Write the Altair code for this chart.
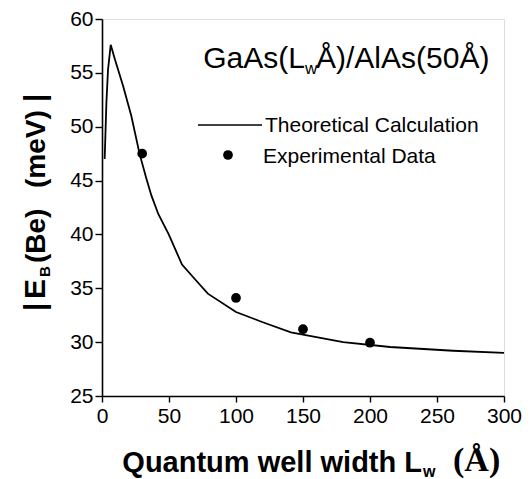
import altair as alt
import pandas as pd

# Theoretical calculation curve
theory_x = [2, 3.3, 4.5, 6.5, 9.5, 15.7, 21.9, 28, 33.1, 36.9, 42.0, 49.8, 59.7, 70.4, 79, 100, 120, 141, 180, 215, 262, 300]
theory_y = [47.0, 52.3, 55.3, 57.6, 56.3, 53.8, 51.0, 47.5, 45.2, 43.6, 41.9, 40.0, 37.2, 35.7, 34.5, 32.8, 31.85, 30.9, 30.0, 29.55, 29.2, 29.0]

# Experimental data
exp_x = [30, 100, 150, 200]
exp_y = [47.5, 34.1, 31.2, 29.95]

x_ticks = [0, 25, 50, 75, 100, 125, 150, 175, 200, 225, 250, 275, 300]
y_ticks = [25, 27.5, 30, 32.5, 35, 37.5, 40, 42.5, 45, 47.5, 50, 52.5, 55, 57.5, 60]

legend_labels = ["Theoretical Calculation", "Experimental Data"]
FONT = "Liberation Sans"

W, H = 402, 377

theory = pd.DataFrame({"x": theory_x, "y": theory_y})
exp = pd.DataFrame({"x": exp_x, "y": exp_y})

xscale = alt.Scale(domain=[0, 300], nice=False, zero=False)
yscale = alt.Scale(domain=[25, 60], nice=False, zero=False)

common_axis = dict(
    grid=False, title=None, labelFont=FONT, labelFontSize=21, labelColor="black",
    tickColor="black", domainColor="black", domainWidth=1.6, tickWidth=1.4,
)
x_axis = alt.Axis(
    values=x_ticks,
    labelExpr="datum.value % 50 === 0 ? datum.label : ''",
    tickSize={"condition": {"test": "datum.value % 50 === 0", "value": 6}, "value": 3},
    labelPadding=3, labelFlush=False, labelOverlap=False, **common_axis,
)
y_axis = alt.Axis(
    values=y_ticks,
    labelExpr="datum.value % 5 === 0 ? datum.label : ''",
    tickSize={"condition": {"test": "datum.value % 5 === 0", "value": 7}, "value": 3},
    labelPadding=2, labelFlush=False, labelOverlap=False, **common_axis,
)

line = alt.Chart(theory).mark_line(color="black", strokeWidth=1.8).encode(
    x=alt.X("x:Q", scale=xscale, axis=x_axis),
    y=alt.Y("y:Q", scale=yscale, axis=y_axis),
)
points = alt.Chart(exp).mark_point(filled=True, color="black", size=95, opacity=1).encode(
    x=alt.X("x:Q", scale=xscale),
    y=alt.Y("y:Q", scale=yscale),
)


def txt(s, x, y, size, bold=False, angle=0, align="left", font=FONT):
    kw = dict(align=align, baseline="alphabetic", fontSize=size, font=font,
              color="black", fontWeight="bold" if bold else "normal")
    if angle:
        kw["angle"] = angle
    return alt.Chart(pd.DataFrame({"t": [s]})).mark_text(**kw).encode(
        text="t:N", x=alt.value(x), y=alt.value(y)
    )


# annotation GaAs(L_w Å)/AlAs(50Å)
ann = [
    txt("GaAs(L", 203, 49, 30, align="right"),
    txt("w", 203, 55, 17),
    txt("Å)/AlAs(50Å)", 214, 49, 30),
]

# legend
leg_line = alt.Chart(pd.DataFrame({"t": [0]})).mark_rule(color="black", strokeWidth=1.6).encode(
    x=alt.value(96), x2=alt.value(160), y=alt.value(106)
)
leg_pt = alt.Chart(pd.DataFrame({"t": [0]})).mark_point(filled=True, color="black", size=95, opacity=1).encode(
    x=alt.value(126), y=alt.value(136)
)
leg_txt = [
    txt(legend_labels[0], 163, 113, 21),
    txt(legend_labels[1], 161, 144, 21),
]

# x title
xt = [
    txt("Quantum well width L", 320, 453, 29, bold=True, align="right"),
    txt("w", 321, 458, 16, bold=True),
    txt("(Å)", 351, 452, 34, bold=True, font="Liberation Serif"),
]

# y title (rotated)
yt = [
    txt("|", -57, 292, 30, bold=True, angle=270),
    txt("E", -57, 280, 30, bold=True, angle=270),
    txt("B", -52, 258, 15, bold=True, angle=270),
    txt("(Be)", -57, 244, 28, bold=True, angle=270),
    txt("(meV)", -57, 169, 28, bold=True, angle=270),
    txt("|", -57, 83, 30, bold=True, angle=270),
]

chart = alt.layer(line, points, *ann, leg_line, leg_pt, *leg_txt, *xt, *yt).properties(
    width=W, height=H,
    autosize=alt.AutoSizeParams(type="none"),
    padding={"left": 94, "top": 11, "right": 20, "bottom": 83},
).configure_view(stroke="black", strokeWidth=1.6).configure(background="white")

chart.save("out.html", embed_options={"renderer": "svg", "actions": False})
